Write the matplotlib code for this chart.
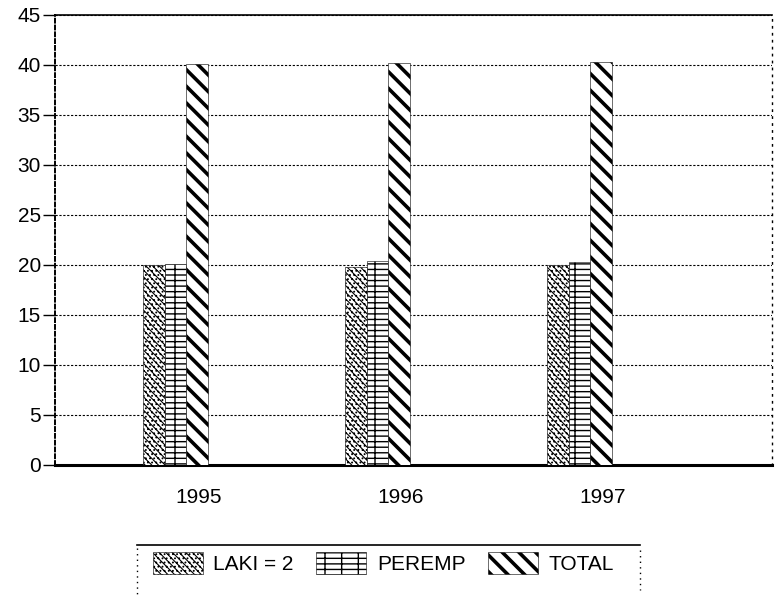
import numpy as np
import matplotlib
matplotlib.use('Agg')
import matplotlib.pyplot as plt
from matplotlib.lines import Line2D

years = ['1995', '1996', '1997']
laki = [20.0, 19.8, 20.0]
peremp = [20.1, 20.4, 20.3]
total = [40.1, 40.2, 40.3]
series_names = ['LAKI = 2', 'PEREMP', 'TOTAL']

plt.rcParams['font.family'] = ['Liberation Sans', 'DejaVu Sans']
plt.rcParams['hatch.linewidth'] = 1.0

fig = plt.figure(figsize=(7.84, 5.96), dpi=100)
ax = fig.add_axes([0.070, 0.220, 0.915, 0.755])

x = np.arange(1, len(years) + 1)
w = 0.107
offsets = [-0.223, -0.116, -0.009]
hatches = ['\\\\\\\\\\....', '---|', '\\\\']
hatch_lw = [0.8, 1.0, 2.6]
series = [laki, peremp, total]

for vals, off, h, lw, name in zip(series, offsets, hatches, hatch_lw, series_names):
    bars = ax.bar(x + off, vals, width=w, color='white', edgecolor='black',
                  linewidth=0.4, hatch=h, label=name, zorder=3)
    for b in bars:
        b.set_hatch_linewidth(lw)

ax.set_xlim(0.287, 3.837)
ax.set_ylim(0, 45)
ax.set_yticks(np.arange(0, 46, 5))
ax.set_xticks(x)
ax.set_xticklabels(years)
ax.tick_params(axis='x', length=0, labelsize=15, pad=17)
ax.tick_params(axis='y', length=9, width=1, labelsize=15, pad=1)

ax.yaxis.grid(True, linestyle=(0, (2, 1.5)), color='black', linewidth=0.8)
ax.set_axisbelow(True)

ax.spines['top'].set_linewidth(1.2)
ax.spines['bottom'].set_linewidth(2.2)
ax.spines['left'].set_linestyle((0, (2, 1.5)))
ax.spines['left'].set_linewidth(1.4)
ax.spines['right'].set_linestyle((0, (1, 4)))
ax.spines['right'].set_linewidth(1.0)

leg = fig.legend(loc='center', bbox_to_anchor=(0.489, 0.055), ncol=3,
                 frameon=False, fontsize=15, handlelength=2.4, handleheight=1.2,
                 handletextpad=0.5, columnspacing=1.1)
for p, lw in zip(leg.get_patches(), hatch_lw):
    p.set_hatch_linewidth(lw)
    p.set_linewidth(0.4)

# legend box lines
fig.add_artist(Line2D([137 / 784, 640 / 784], [1 - 545 / 596, 1 - 545 / 596],
                      color='black', linewidth=1.2))
fig.add_artist(Line2D([137 / 784, 137 / 784], [1 - 548 / 596, 0.0],
                      color='black', linewidth=1.0, linestyle=(0, (1, 3))))
fig.add_artist(Line2D([640 / 784, 640 / 784], [1 - 550 / 596, 1 - 590 / 596],
                      color='black', linewidth=1.0, linestyle=(0, (1, 3))))

fig.savefig('out.png', dpi=100)
